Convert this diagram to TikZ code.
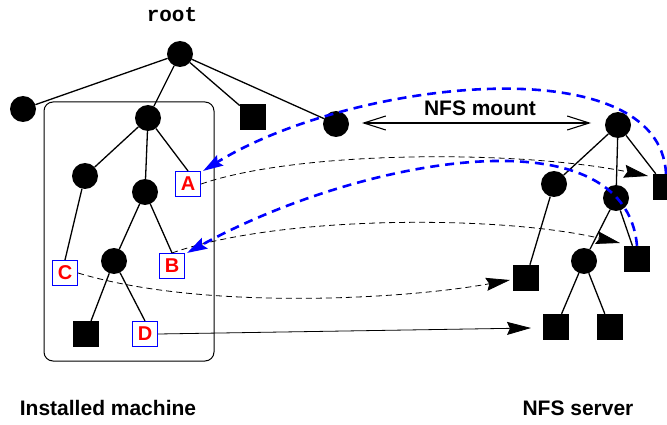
\documentclass[tikz,border=0pt]{standalone}
\usepackage{fontspec}
\setmainfont{Liberation Sans}
\setmonofont{Liberation Mono}
\usetikzlibrary{arrows.meta}

\begin{document}
\begin{tikzpicture}[x=1pt, y=-1pt,
        dir/.style={circle, fill=black, inner sep=0pt, minimum size=26pt},
        file/.style={rectangle, fill=black, inner sep=0pt, minimum size=26pt},
        link/.style={rectangle, draw=blue, fill=white, line width=1.1pt, inner sep=0pt, minimum size=25pt, text=red, font=\fontsize{20}{20}\selectfont\bfseries},
        edge/.style={line width=1.3pt},
        ref/.style={dash pattern=on 6pt off 4pt, line width=0.8pt, -{Stealth[length=24pt, width=13pt, inset=3pt]}},
        nfs/.style={blue, line width=2.6pt, dash pattern=on 9pt off 6pt, -{Stealth[length=20pt, width=12pt, inset=3pt]}},
        lbl/.style={font=\fontsize{21}{21}\selectfont\bfseries}]
        \useasboundingbox (0,0) rectangle (667,425);
        \draw[line width=1pt, rounded corners=9pt] (44,102) rectangle (214,361);
        \node[font=\fontsize{21}{21}\selectfont\ttfamily\bfseries] (rootlbl) at (172,15) {root};
        \node[dir] (root) at (180,54) {};
        \node[dir] (lft) at (23,109) {};
        \node[dir] (inst) at (148,118) {};
        \node[file] (blk) at (253,117) {};
        \node[dir] (mnt) at (336,124) {};
        \node[dir] (u1) at (85,176) {};
        \node[dir] (u2) at (145,192) {};
        \node[link] (A) at (188,184) {A};
        \node[link] (C) at (65,273) {C};
        \node[dir] (u3) at (114,261) {};
        \node[link] (B) at (172,266) {B};
        \node[file] (f1) at (86,334) {};
        \node[link] (D) at (145,334) {D};
        \node[dir] (srv) at (618,125) {};
        \node[dir] (s1) at (554,184) {};
        \node[dir] (s2) at (616,198) {};
        \node[file] (ta) at (666,187) {};
        \node[file] (tc) at (526,278) {};
        \node[dir] (s3) at (584,261) {};
        \node[file] (tb) at (637,259) {};
        \node[file] (td) at (556,327) {};
        \node[file] (te) at (610,327) {};
        \draw[edge] (root) -- (lft) (root) -- (inst) (root) -- (blk) (root) -- (mnt);
        \draw[edge] (inst) -- (u1) (inst) -- (u2) (inst) -- (A.north);
        \draw[edge] (u1) -- (C.north) (u2) -- (u3) (u2) -- (B.north);
        \draw[edge] (u3) -- (f1) (u3) -- (D.north);
        \draw[edge] (srv) -- (s1) (srv) -- (s2) (srv) -- (ta);
        \draw[edge] (s1) -- (tc) (s2) -- (s3) (s2) -- (tb) (s3) -- (td) (s3) -- (te);
        \coordinate (atip) at (648,176);
        \coordinate (btip) at (620,243);
        \coordinate (ctip) at (510,280);
        \coordinate (dtip) at (531,328);
        \draw[ref] (A.east) .. controls (300,150) and (520,150) .. (atip);
        \draw[ref] (B.north) .. controls (280,215) and (500,215) .. (btip);
        \draw[ref] (C.east) .. controls (200,310) and (400,300) .. (ctip);
        \draw[line width=0.8pt, -{Stealth[length=24pt, width=13pt, inset=3pt]}] (D.east) -- (dtip);
        \draw[line width=1.1pt, {Straight Barb[length=22pt, width=14pt]}-{Straight Barb[length=22pt, width=14pt]}] (362,123) -- (591,123);
        \node[lbl] (mount) at (480,108) {NFS mount};
        \draw[nfs] (ta.north) .. controls (660,45) and (350,80) .. ([xshift=2pt]A.north east);
        \draw[nfs] (tb.north) .. controls (625,110) and (360,158) .. ([xshift=2pt]B.north east);
        \node[lbl] (inlbl) at (108,408) {Installed machine};
        \node[lbl] (srvlbl) at (578,408) {NFS server};
\end{tikzpicture}
\end{document}
